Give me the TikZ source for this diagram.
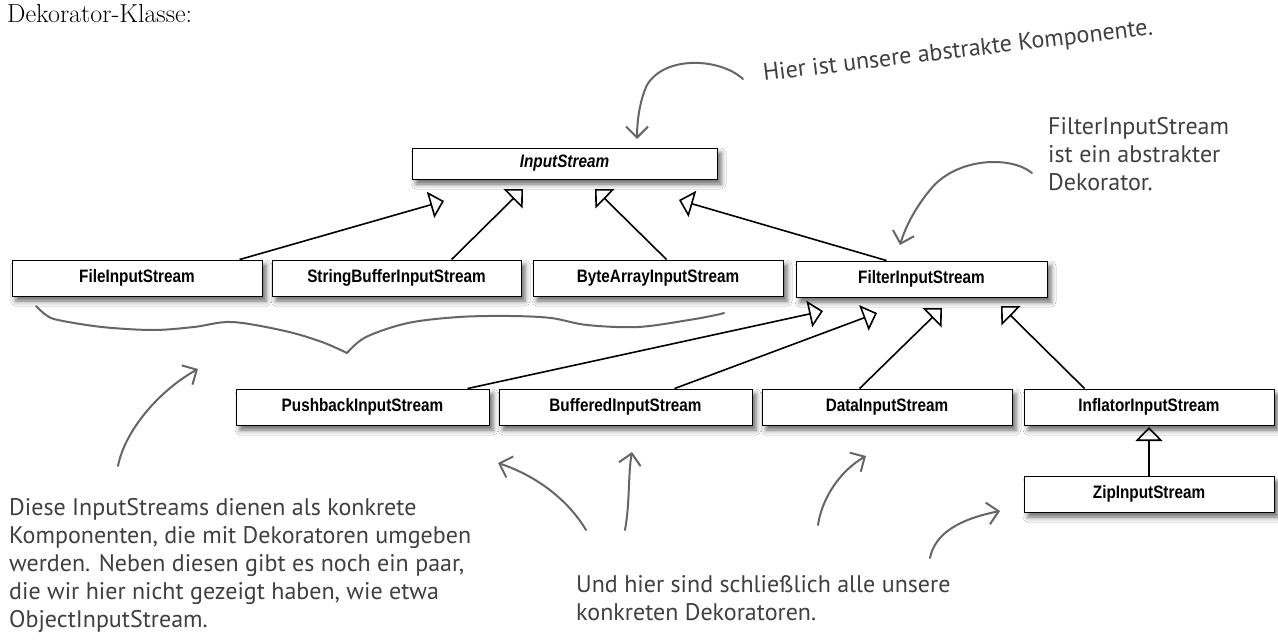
\documentclass[tikz,border=0pt]{standalone}
\usepackage{fontspec}
\newfontfamily\boxfont{Liberation Sans}[FakeStretch=0.85]
\newfontfamily\handfont{PT Sans}
\usetikzlibrary{arrows.meta,shadows.blur,calc}
\definecolor{handtext}{HTML}{404040}
\definecolor{handline}{HTML}{666666}
\begin{document}
\begin{tikzpicture}[x=1pt,y=-1pt,
  cls/.style={draw=black, line width=0.9pt, fill=white, minimum height=36pt, minimum width=250pt,
    inner sep=0pt, font=\boxfont\bfseries\fontsize{18}{20}\selectfont,
    blur shadow={shadow xshift=4pt, shadow yshift=-5pt, shadow blur radius=5pt, shadow opacity=60}},
  inh/.style={line width=1.6pt, -{Triangle[open, length=14pt, width=27pt]}},
  note/.style={text=handtext, font=\handfont\fontsize{24}{28}\selectfont, align=left, inner sep=0pt},
  handarrow/.style={draw=handline, line width=2pt, line cap=round, line join=round,
    -{Straight Barb[length=11pt, width=22pt]}},
  brace/.style={draw=handline, line width=2pt, line cap=round, line join=round}
]
\useasboundingbox[fill=white] (0,0) rectangle (1278,640);

% title
\node[anchor=base west, inner sep=0pt, font=\fontsize{26}{28}\selectfont] (title) at (7,22) {Dekorator-Klasse:};

% classes
\node[cls, minimum width=305pt, minimum height=31pt, font=\boxfont\bfseries\itshape\fontsize{18}{20}\selectfont] (is) at (564.5,163.5) {InputStream};
\node[cls] (file) at (137,278) {FileInputStream};
\node[cls, minimum width=249pt] (sb) at (396.5,278) {StringBufferInputStream};
\node[cls] (ba) at (658,278) {ByteArrayInputStream};
\node[cls, minimum width=251pt] (filter) at (921.5,279) {FilterInputStream};
\node[cls, minimum width=253pt] (push) at (362.5,407) {PushbackInputStream};
\node[cls, minimum width=253pt] (buf) at (625.5,407) {BufferedInputStream};
\node[cls] (data) at (887,407) {DataInputStream};
\node[cls] (infl) at (1149,407) {InflatorInputStream};
\node[cls] (zip) at (1149,494) {ZipInputStream};

% arrow tips (free ends under the parents)
\coordinate (tFile) at (444,201);
\coordinate (tSb) at (523,189);
\coordinate (tBa) at (595,189);
\coordinate (tFilter) at (679,200);
\coordinate (tPush) at (823,311);
\coordinate (tBuf) at (877,313);
\coordinate (tData) at (942,308);
\coordinate (tInfl) at (1001,306);
\coordinate (tZip) at (1149,427);

\draw[inh] (file.north west) ++(228,0) -- (tFile);
\draw[inh] (sb.north west) ++(180,0) -- (tSb);
\draw[inh] (ba.north west) ++(134,0) -- (tBa);
\draw[inh] (filter.north west) ++(91,0) -- (tFilter);
\draw[inh] (push.north west) ++(232,0) -- (tPush);
\draw[inh] (buf.north west) ++(176,0) -- (tBuf);
\draw[inh] (data.north west) ++(98,0) -- (tData);
\draw[inh] (infl.north west) ++(61,0) -- (tInfl);
\draw[inh] (zip.north) -- (tZip);

% annotations
\node[note, anchor=base west, rotate=6.8] (n1) at (764,81) {Hier ist unsere abstrakte Komponente.};
\node[note, anchor=north west] (n2) at (1048,117) {FilterInputStream\\ist ein abstrakter\\Dekorator.};
\node[note, anchor=north west] (n3) at (9,498) {Diese InputStreams dienen als konkrete\\Komponenten, die mit Dekoratoren umgeben\\werden. Neben diesen gibt es noch ein paar,\\die wir hier nicht gezeigt haben, wie etwa\\ObjectInputStream.};
\node[note, anchor=north west] (n4) at (576,575) {Und hier sind schließlich alle unsere\\konkreten Dekoratoren.};

% hand-drawn arrows
\coordinate (a1s) at (743,79);   \coordinate (a1e) at (637,139);
\draw[handarrow] (a1s) .. controls (720,58) and (665,55) .. (647,85) .. controls (640,100) and (637,120) .. (a1e);
\coordinate (a2s) at (1032,173); \coordinate (a2e) at (900,245);
\draw[handarrow] (a2s) .. controls (1010,155) and (955,158) .. (930,190) .. controls (915,208) and (905,228) .. (a2e);
\coordinate (a3s) at (118,466);  \coordinate (a3e) at (198,369);
\draw[handarrow] (a3s) .. controls (125,430) and (160,390) .. (a3e);
\coordinate (a4s) at (586,530);  \coordinate (a4e) at (498,463);
\draw[handarrow] (a4s) .. controls (570,503) and (540,477) .. (a4e);
\coordinate (a5s) at (625,530);  \coordinate (a5e) at (632,452);
\draw[handarrow] (a5s) .. controls (630,503) and (628,474) .. (a5e);
\coordinate (a6s) at (818,525);  \coordinate (a6e) at (866,456);
\draw[handarrow] (a6s) .. controls (822,498) and (840,471) .. (a6e);
\coordinate (a7s) at (930,558);  \coordinate (a7e) at (1000,511);
\draw[handarrow] (a7s) .. controls (935,533) and (960,519) .. (a7e);

% curly brace under the concrete components
\draw[brace] plot[smooth, tension=0.55] coordinates {(36,306) (46,315) (58,320) (102,327) (153,330) (194,327) (232,322) (285,331) (322,342) (347,353)};
\draw[brace] plot[smooth, tension=0.55] coordinates {(347,353) (366,337) (408,323) (459,317) (510,316) (551,318) (587,325) (638,327) (689,320) (716,315) (724,313)};
\end{tikzpicture}
\end{document}
